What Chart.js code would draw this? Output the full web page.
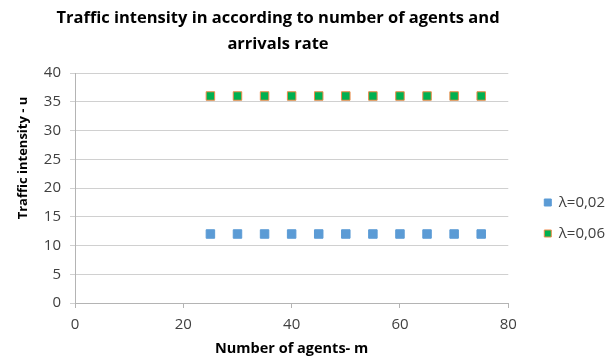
<!DOCTYPE html>
<html>
<head>
<meta charset="utf-8">
<script src="https://cdn.jsdelivr.net/npm/chart.js@4/dist/chart.umd.min.js"></script>
<style>
html,body{margin:0;padding:0;background:#ffffff;}
#wrap{position:relative;width:611px;height:358px;}
</style>
</head>
<body>
<div id="wrap"><canvas id="c" width="611" height="358"></canvas></div>
<script>
const TITLE_LINES = ['Traffic intensity in according to number of agents and', 'arrivals rate'];
const X_TITLE = 'Number of agents- m';
const Y_TITLE = 'Traffic intensity - u';
const SERIES_NAMES = ['λ=0,02', 'λ=0,06'];
const agents = [25, 30, 35, 40, 45, 50, 55, 60, 65, 70, 75];
const uLambda002 = [12, 12, 12, 12, 12, 12, 12, 12, 12, 12, 12];
const uLambda006 = [36, 36, 36, 36, 36, 36, 36, 36, 36, 36, 36];
const xTicks = [0, 20, 40, 60, 80];
const yTicks = [0, 5, 10, 15, 20, 25, 30, 35, 40];

const FONT = '"Open Sans", "DejaVu Sans", sans-serif';
const GRID = '#d0d0d0';
const AXIS = '#b4b4b4';
const TXT = '#404040';

const pairs = (xs, ys) => xs.map((x, i) => ({x: x, y: ys[i]}));

const layoutTweak = {
  id: 'layoutTweak',
  afterLayout(chart) {
    const lg = chart.legend;
    if (lg) { lg.left += 20; lg.right += 20; lg.top += 39; lg.bottom += 39; }
    const tb = chart.titleBlock;
    if (tb) { tb.left = 0; tb.right = 556; tb.width = 556; }
  },
  afterDraw(chart) {
    const ctx = chart.ctx;
    ctx.save();
    ctx.font = 'bold 13px ' + FONT;
    ctx.fillStyle = '#000000';
    ctx.textAlign = 'center';
    ctx.textBaseline = 'middle';
    ctx.translate(23, 158);
    ctx.rotate(-Math.PI / 2);
    ctx.fillText(Y_TITLE, 0, 0);
    ctx.restore();
  }
};

new Chart(document.getElementById('c'), {
  type: 'scatter',
  data: {
    datasets: [
      {
        label: SERIES_NAMES[0],
        data: pairs(agents, uLambda002),
        backgroundColor: '#5B9BD5',
        borderColor: '#5B9BD5',
        borderWidth: 1,
        pointStyle: 'rect',
        pointRadius: 6,
        pointHoverRadius: 6,
        showLine: false
      },
      {
        label: SERIES_NAMES[1],
        data: pairs(agents, uLambda006),
        backgroundColor: '#00B050',
        borderColor: '#EE8A4A',
        borderWidth: 1,
        pointStyle: 'rect',
        pointRadius: 6,
        pointHoverRadius: 6,
        showLine: false
      }
    ]
  },
  options: {
    responsive: false,
    devicePixelRatio: 1,
    animation: false,
    events: [],
    layout: { padding: { left: 0, right: 16, top: 0, bottom: 0 } },
    plugins: {
      title: {
        display: true,
        text: TITLE_LINES,
        color: '#000000',
        font: { family: FONT, size: 16.5, weight: 'bold', lineHeight: 26 / 16.5 },
        padding: { top: 5, bottom: 16 }
      },
      legend: {
        display: true,
        position: 'right',
        align: 'center',
        labels: {
          boxWidth: 7,
          boxHeight: 7,
          padding: 16,
          color: TXT,
          font: { family: FONT, size: 15 }
        }
      },
      tooltip: { enabled: false }
    },
    scales: {
      x: {
        type: 'linear',
        min: 0,
        max: 80,
        afterBuildTicks: (s) => { s.ticks = xTicks.map(v => ({value: v})); },
        afterFit: (s) => { s.height = 55; },
        grid: { drawOnChartArea: false, drawTicks: true, tickLength: 5, color: AXIS },
        border: { display: true, color: AXIS, width: 1 },
        ticks: { color: TXT, padding: 8, font: { family: FONT, size: 15 }, maxRotation: 0 },
        title: {
          display: true,
          text: X_TITLE,
          color: '#000000',
          font: { family: FONT, size: 14.5, weight: 'bold', lineHeight: 1.2 },
          padding: { top: 0, bottom: 0 }
        }
      },
      y: {
        type: 'linear',
        min: 0,
        max: 40,
        afterBuildTicks: (s) => { s.ticks = yTicks.map(v => ({value: v})); },
        afterFit: (s) => { s.width = 75; },
        grid: { drawOnChartArea: true, drawTicks: true, tickLength: 5, color: GRID },
        border: { display: true, color: AXIS, width: 1 },
        ticks: { color: TXT, padding: 9, font: { family: FONT, size: 15 } },
        title: { display: false }
      }
    }
  },
  plugins: [layoutTweak]
});
</script>
</body>
</html>
